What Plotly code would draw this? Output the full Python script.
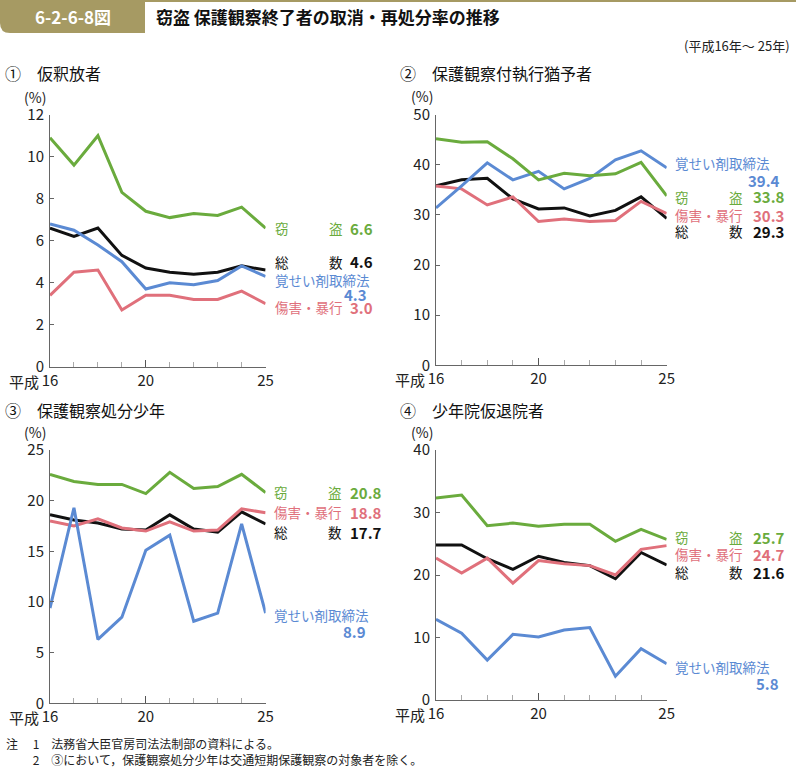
import plotly.graph_objects as go

W, H = 796, 767
FONT = "Noto Sans CJK JP"

years = [16, 17, 18, 19, 20, 21, 22, 23, 24, 25]

# ① 仮釈放者
theft1 = [10.9, 9.6, 11.0, 8.3, 7.4, 7.1, 7.3, 7.2, 7.6, 6.6]
total1 = [6.6, 6.2, 6.6, 5.3, 4.7, 4.5, 4.4, 4.5, 4.8, 4.6]
stim1 = [6.8, 6.5, 5.8, 5.0, 3.7, 4.0, 3.9, 4.1, 4.8, 4.3]
viol1 = [3.4, 4.5, 4.6, 2.7, 3.4, 3.4, 3.2, 3.2, 3.6, 3.0]

# ② 保護観察付執行猶予者
theft2 = [45.2, 44.5, 44.6, 41.2, 37.0, 38.3, 37.8, 38.2, 40.5, 33.8]
stim2 = [31.4, 35.8, 40.4, 37.0, 38.7, 35.2, 37.3, 41.0, 42.8, 39.4]
total2 = [35.8, 37.0, 37.3, 33.2, 31.2, 31.4, 29.8, 30.9, 33.6, 29.3]
viol2 = [35.8, 35.2, 32.0, 33.6, 28.7, 29.2, 28.7, 28.9, 32.7, 30.3]

# ③ 保護観察処分少年
theft3 = [22.6, 21.9, 21.6, 21.6, 20.7, 22.8, 21.2, 21.4, 22.6, 20.8]
total3 = [18.6, 18.1, 17.8, 17.2, 17.1, 18.6, 17.2, 16.9, 18.9, 17.7]
viol3 = [18.0, 17.5, 18.2, 17.3, 17.0, 17.9, 17.0, 17.1, 19.2, 18.8]
stim3 = [9.4, 19.3, 6.3, 8.5, 15.1, 16.6, 8.1, 8.9, 17.7, 8.9]

# ④ 少年院仮退院者
theft4 = [32.3, 32.8, 27.9, 28.3, 27.8, 28.1, 28.1, 25.4, 27.3, 25.7]
viol4 = [22.7, 20.3, 22.7, 18.7, 22.3, 21.8, 21.5, 20.0, 24.1, 24.7]
total4 = [24.8, 24.8, 22.6, 20.9, 23.0, 22.0, 21.5, 19.4, 23.6, 21.6]
stim4 = [12.9, 10.7, 6.4, 10.5, 10.1, 11.2, 11.6, 3.8, 8.2, 5.8]

series_names = ["総　　　数", "傷害・暴行", "覚せい剤取締法", "窃　　　盗"]
series_colors = ["#111111", "#e0707b", "#5b8ad3", "#6aab3d"]

panel_titles = ["①　仮釈放者", "②　保護観察付執行猶予者", "③　保護観察処分少年", "④　少年院仮退院者"]
y_max = [12, 50, 25, 40]
y_dtick = [2, 10, 5, 10]
x_ticks = [16, 20, 25]
x_ticktext = ["16", "20", "25"]

panels = [
    [total1, viol1, stim1, theft1],
    [total2, viol2, stim2, theft2],
    [total3, viol3, stim3, theft3],
    [total4, viol4, stim4, theft4],
]


def px(x):
    return x / W


def py(y):
    return 1 - y / H


# layout geometry (pixels)
dom = [
    ((50, 265.6), (114.7, 366.7)),
    ((436, 666.7), (114.7, 365.3)),
    ((50, 265.6), (450, 703.3)),
    ((436, 666.7), (450, 700)),
]
title_pos = [(3, 73), (398, 73), (3, 410), (398, 410)]
pct_pos = [(35, 97), (422, 96), (35, 432), (422, 432)]
# label placement: name_x, value_left_x, stim_value_right_x, y for [total, viol, stim, theft], y for stim value
label_geo = [
    (273, 348, 369, [262, 307, 280, 228], 294),
    (673, 751, 782, [231, 215, 163, 197], 181),
    (272, 348, 368, [532, 512, 615, 492], 631),
    (673, 751, 781, [572, 554, 667, 537], 683),
]

fig = go.Figure()
annotations = []
shapes = []

for i, data in enumerate(panels):
    n = "" if i == 0 else str(i + 1)
    for j, vals in enumerate(data):
        fig.add_trace(go.Scatter(
            x=years, y=vals, mode="lines",
            line=dict(color=series_colors[j], width=3),
            xaxis="x" + n, yaxis="y" + n,
            cliponaxis=False, showlegend=False, hoverinfo="skip",
        ))
    (x0, x1), (y0, y1) = dom[i]
    fig.layout["xaxis" + n] = dict(
        domain=[px(x0), px(x1)], anchor="y" + n, range=[16, 25], automargin=False,
        showline=True, linecolor="#666", linewidth=1, showgrid=False, zeroline=False,
        tickvals=x_ticks, ticktext=x_ticktext, ticks="inside", ticklen=7,
        tickcolor="#555", tickfont=dict(family=FONT, size=15, color="#222"),
        minor=dict(dtick=1, tick0=16, ticks="inside", ticklen=5, tickcolor="#aaa"),
    )
    fig.layout["yaxis" + n] = dict(
        domain=[py(y1), py(y0)], anchor="x" + n, range=[0, y_max[i]], automargin=False,
        showline=True, linecolor="#666", linewidth=1, showgrid=False, zeroline=False,
        dtick=y_dtick[i], tick0=0, ticks="inside", ticklen=4, tickcolor="#666",
        tickfont=dict(family=FONT, size=15, color="#222"), ticklabelstandoff=2,
    )
    # 平成 prefix
    annotations.append(dict(
        x=16, y=0, xref="x" + n, yref="y" + n, xanchor="right", yanchor="top",
        xshift=-9, yshift=-2, text="平成", showarrow=False,
        font=dict(family=FONT, size=15, color="#222"),
    ))
    tx, ty = title_pos[i]
    annotations.append(dict(
        x=px(tx), y=py(ty), xref="paper", yref="paper", xanchor="left", yanchor="middle",
        text=panel_titles[i], showarrow=False, font=dict(family=FONT, size=16, color="#111"),
    ))
    cx, cy = pct_pos[i]
    annotations.append(dict(
        x=px(cx), y=py(cy), xref="paper", yref="paper", xanchor="center", yanchor="middle",
        text="(%)", showarrow=False, font=dict(family=FONT, size=14, color="#222"),
    ))
    name_x, val_x, stim_rx, ys, stim_vy = label_geo[i]
    for j, vals in enumerate(data):
        annotations.append(dict(
            x=px(name_x), y=py(ys[j]), xref="paper", yref="paper", xanchor="left",
            yanchor="middle", text=series_names[j], showarrow=False,
            font=dict(family=FONT, size=13.5, color=series_colors[j]),
        ))
        if j == 2:
            annotations.append(dict(
                x=px(stim_rx), y=py(stim_vy), xref="paper", yref="paper", xanchor="right",
                yanchor="middle", text="<b>%.1f</b>" % vals[-1], showarrow=False,
                font=dict(family=FONT, size=15, color=series_colors[j]),
            ))
        else:
            annotations.append(dict(
                x=px(val_x), y=py(ys[j]), xref="paper", yref="paper", xanchor="left",
                yanchor="middle", text="<b>%.1f</b>" % vals[-1], showarrow=False,
                font=dict(family=FONT, size=15, color=series_colors[j]),
            ))

# header
OLIVE = "#a69a63"
shapes.append(dict(type="rect", xref="paper", yref="paper", x0=0, x1=1, y0=py(2), y1=py(0),
                   fillcolor=OLIVE, line=dict(width=0), layer="below"))
r = 10
shapes.append(dict(
    type="path", xref="paper", yref="paper",
    path="M %f,%f L %f,%f L %f,%f L %f,%f Q %f,%f %f,%f Z" % (
        px(0), py(0), px(145), py(0), px(145), py(33), px(r), py(33),
        px(0), py(33), px(0), py(33 - r)),
    fillcolor=OLIVE, line=dict(width=0), layer="below"))
annotations.append(dict(x=px(73), y=py(17), xref="paper", yref="paper", xanchor="center",
                        yanchor="middle", text="<b>6-2-6-8図</b>", showarrow=False,
                        font=dict(family=FONT, size=17, color="white")))
annotations.append(dict(x=px(154), y=py(17), xref="paper", yref="paper", xanchor="left",
                        yanchor="middle", text="<b>窃盗 保護観察終了者の取消・再処分率の推移</b>",
                        showarrow=False, font=dict(family=FONT, size=17, color="#111")))
annotations.append(dict(x=px(792), y=py(46), xref="paper", yref="paper", xanchor="right",
                        yanchor="middle", text="(平成16年～ 25年)", showarrow=False,
                        font=dict(family=FONT, size=13, color="#222")))

notes = ["注　 1　法務省大臣官房司法法制部の資料による。",
         "　　 2　③において，保護観察処分少年は交通短期保護観察の対象者を除く。"]
for k, t in enumerate(notes):
    annotations.append(dict(x=px(4), y=py(743 + 16 * k), xref="paper", yref="paper",
                            xanchor="left", yanchor="middle", text=t, showarrow=False,
                            font=dict(family=FONT, size=12, color="#222")))

fig.update_layout(
    width=W, height=H, margin=dict(l=0, r=0, t=0, b=0, pad=0), autosize=False,
    paper_bgcolor="white", plot_bgcolor="white",
    annotations=annotations, shapes=shapes, showlegend=False,
)

fig.write_html(
    "out.html",
    config={"displayModeBar": False},
    post_script="document.body.style.margin='0';document.body.style.overflow='hidden';"
                "document.documentElement.style.overflow='hidden';",
)
